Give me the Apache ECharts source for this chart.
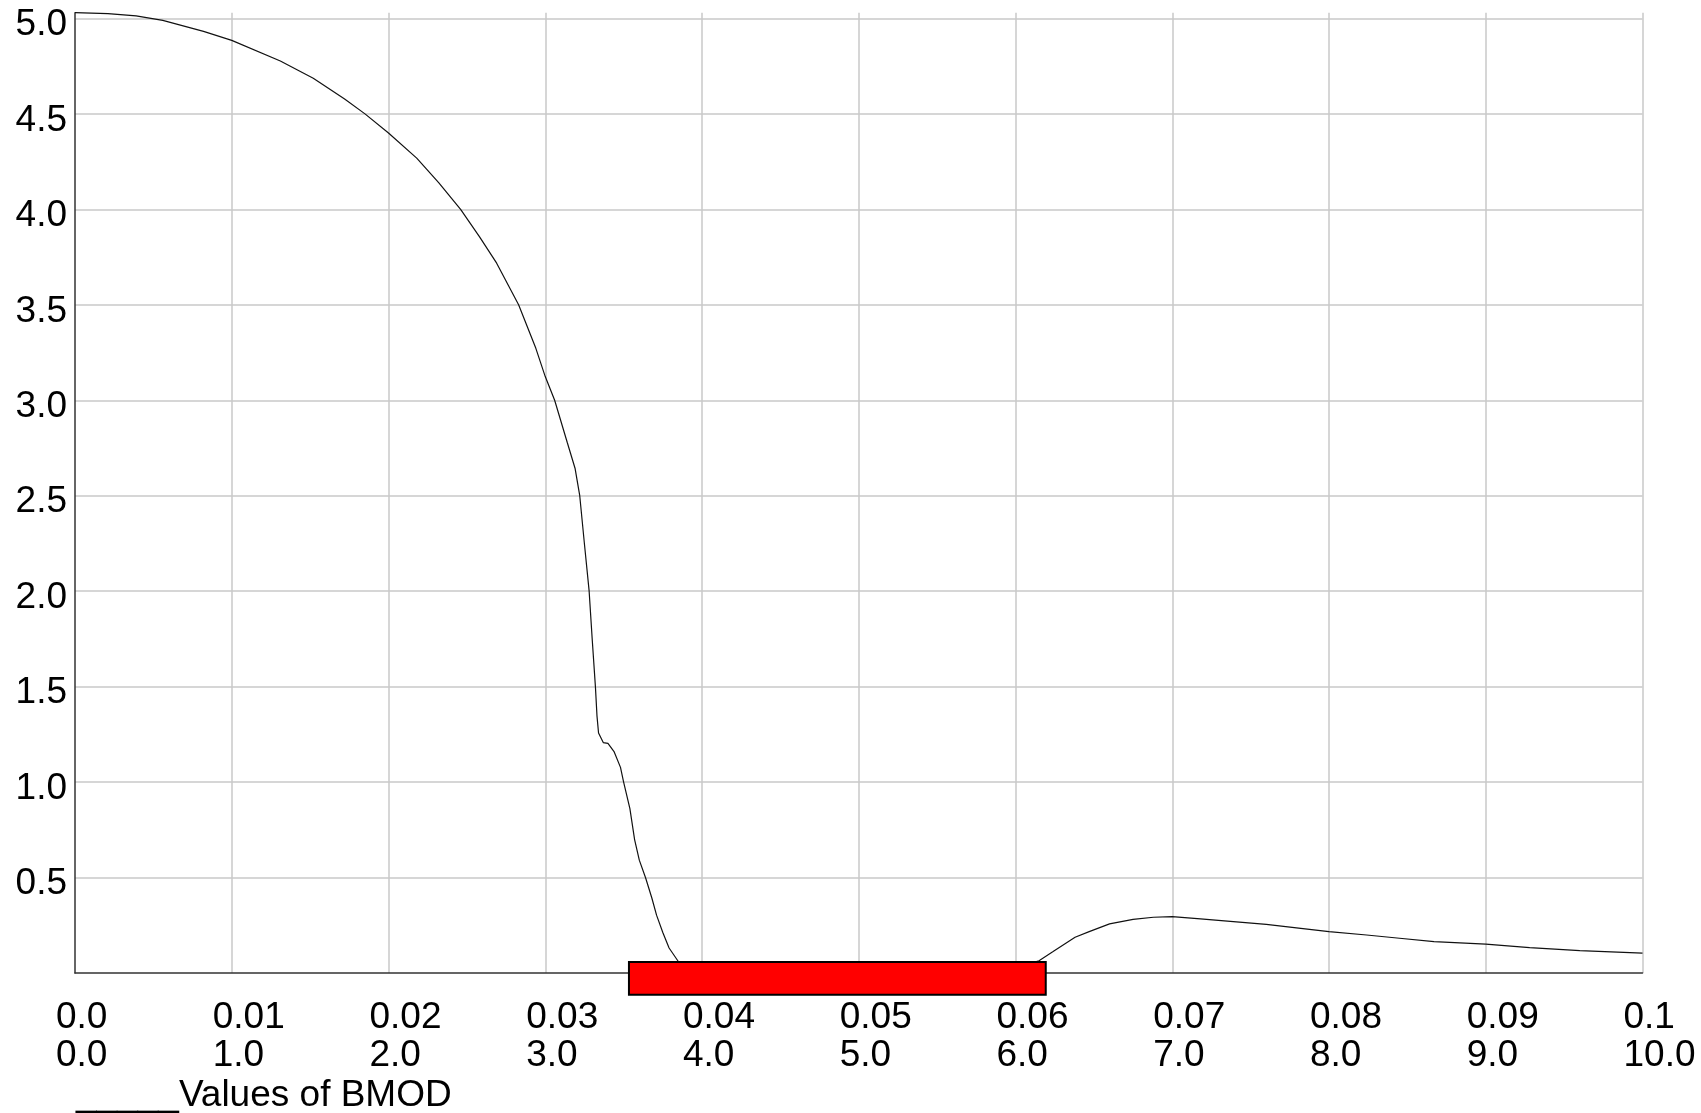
<!DOCTYPE html>
<html>
<head>
<meta charset="utf-8">
<title>Values of BMOD</title>
<script src="https://cdn.jsdelivr.net/npm/echarts@6.0.0/dist/echarts.min.js"></script>
<style>
  html, body { margin: 0; padding: 0; background: #fff; }
  #chart { width: 1701px; height: 1113px; }
</style>
</head>
<body>
<div id="chart"></div>
<script>
// curve
const bmodX = [
  0, 0.0021, 0.0039, 0.0056, 0.0082, 0.0100, 0.0131, 0.0152, 0.0172, 0.0185,
  0.0200, 0.0218, 0.0232, 0.0246, 0.0258, 0.0269, 0.0283, 0.0294, 0.0300, 0.0306,
  0.0314, 0.0319, 0.0322, 0.0325, 0.0328, 0.0330, 0.0332, 0.0333, 0.0334, 0.0337,
  0.0340, 0.0344, 0.0348, 0.0350, 0.0354, 0.0357, 0.0360, 0.0364, 0.0368, 0.0371,
  0.0375, 0.0379, 0.0385, 0.0395, 0.0450, 0.0500, 0.0560, 0.0605, 0.0615, 0.0624,
  0.0638, 0.0647, 0.0660, 0.0675, 0.0688, 0.0700, 0.0718, 0.0739, 0.0760, 0.0782,
  0.0800, 0.0824, 0.0845, 0.0867, 0.0900, 0.0928, 0.0960, 0.1000
];
const bmodY = [
  5.03, 5.025, 5.013, 4.99, 4.932, 4.885, 4.777, 4.687, 4.578, 4.5,
  4.4, 4.268, 4.14, 4.0, 3.857, 3.718, 3.5, 3.272, 3.124, 3.0,
  2.78, 2.644, 2.5, 2.247, 2.0, 1.743, 1.5, 1.347, 1.257, 1.207,
  1.203, 1.158, 1.077, 1.0, 0.861, 0.699, 0.591, 0.499, 0.393, 0.303,
  0.212, 0.131, 0.059, 0.02, 0.005, 0.002, 0.01, 0.04, 0.064, 0.112,
  0.187, 0.217, 0.257, 0.281, 0.292, 0.295, 0.283, 0.269, 0.255, 0.234,
  0.2165, 0.199, 0.182, 0.164, 0.151, 0.133, 0.117, 0.104
];

// red band on the x axis: [xFrom, xTo, yTop, yBottom]
const band = [0.03534, 0.06193, 0.0576, -0.114];

const xTopLabels = ['0.0', '0.01', '0.02', '0.03', '0.04', '0.05', '0.06', '0.07', '0.08', '0.09', '0.1'];
const xBottomLabels = ['0.0', '1.0', '2.0', '3.0', '4.0', '5.0', '6.0', '7.0', '8.0', '9.0', '10.0'];
const yLabels = ['0.5', '1.0', '1.5', '2.0', '2.5', '3.0', '3.5', '4.0', '4.5', '5.0'];

const FONT = "'Liberation Sans', Arial, sans-serif";

const myChart = echarts.init(document.getElementById('chart'));

const option = {
  backgroundColor: '#fff',
  animation: false,
  title: {
    text: '_____Values of BMOD',
    left: 76,
    top: 1077,
    padding: 0,
    textStyle: { fontFamily: FONT, fontSize: 37, fontWeight: 'normal', color: '#000' }
  },
  grid: { left: 75, right: 58.5, top: 12.7, bottom: 140, outerBoundsMode: 'none' },
  xAxis: {
    type: 'value',
    min: 0,
    max: 0.1,
    interval: 0.01,
    axisLine: { onZero: false, lineStyle: { color: '#333', width: 1.5 } },
    axisTick: { show: false },
    splitLine: { show: true, showMinLine: false, showMaxLine: true, lineStyle: { color: '#c8c8c8', width: 1.5 } },
    axisLabel: {
      margin: 26,
      align: 'center',
      showMaxLabel: true,
      formatter: function (value) {
        const i = Math.round(value / 0.01);
        return '{t|' + xTopLabels[i] + '}\n{t|' + xBottomLabels[i] + '}';
      },
      rich: {
        t: { width: 38, align: 'left', lineHeight: 38, fontSize: 37, fontFamily: FONT, color: '#000' }
      }
    }
  },
  yAxis: {
    type: 'value',
    min: 0,
    max: 5.03,
    interval: 0.5,
    axisLine: { show: true, lineStyle: { color: '#333', width: 1.5 } },
    axisTick: { show: false },
    splitLine: { show: true, showMinLine: false, showMaxLine: false, lineStyle: { color: '#c8c8c8', width: 1.5 } },
    axisLabel: {
      margin: 8,
      formatter: function (value) {
        const i = Math.round(value / 0.5) - 1;
        if (Math.abs(value - (i + 1) * 0.5) > 1e-6 || i < 0) return '';
        return '{v|' + yLabels[i] + '}';
      },
      rich: {
        v: { padding: [13, 0, 0, 0], lineHeight: 37, fontSize: 37, fontFamily: FONT, color: '#000' }
      }
    }
  },
  series: [
    {
      name: 'Values of BMOD',
      type: 'line',
      data: bmodX.map((x, i) => [x, bmodY[i]]),
      showSymbol: false,
      smooth: false,
      lineStyle: { color: '#111', width: 1.2 },
      z: 2
    },
    {
      type: 'custom',
      clip: false,
      z: 5,
      data: [band],
      renderItem: function (params, api) {
        const p0 = api.coord([api.value(0), api.value(2)]);
        const p1 = api.coord([api.value(1), api.value(3)]);
        return {
          type: 'rect',
          shape: { x: p0[0], y: p0[1], width: p1[0] - p0[0], height: p1[1] - p0[1] },
          style: { fill: '#ff0000', stroke: '#000', lineWidth: 2 }
        };
      }
    }
  ]
};

option && myChart.setOption(option);
</script>
</body>
</html>
